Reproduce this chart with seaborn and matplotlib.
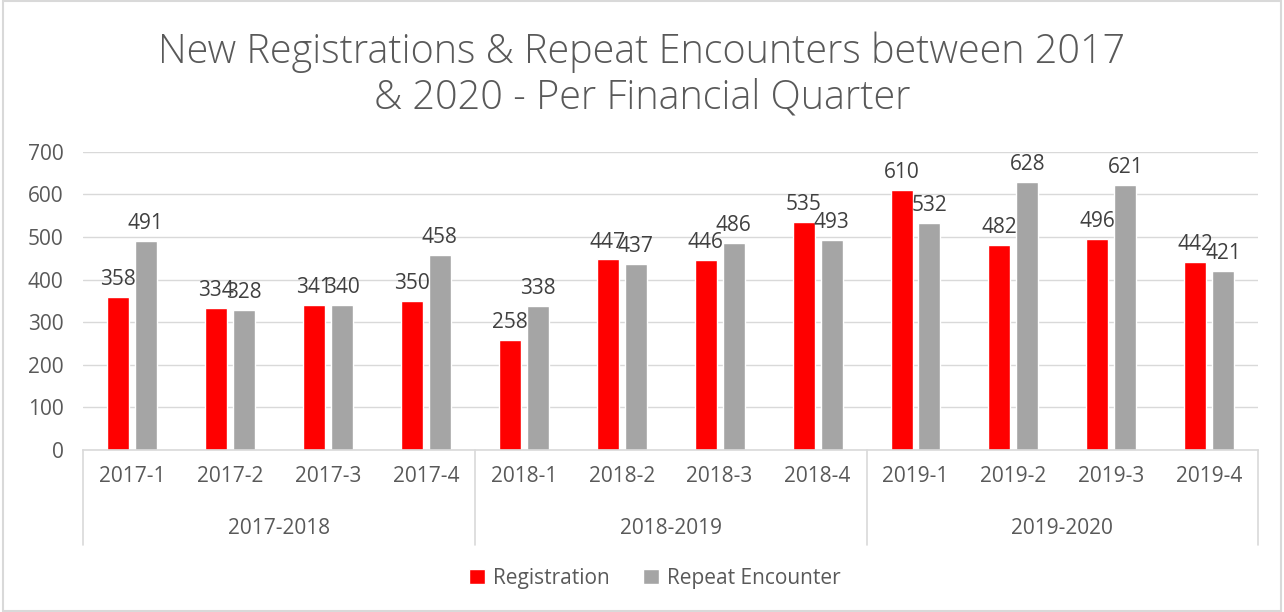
import matplotlib
matplotlib.use("Agg")
import matplotlib.pyplot as plt
import matplotlib.transforms as mtransforms
from matplotlib.patches import Rectangle
import seaborn as sns
import pandas as pd

quarters = ["2017-1", "2017-2", "2017-3", "2017-4",
            "2018-1", "2018-2", "2018-3", "2018-4",
            "2019-1", "2019-2", "2019-3", "2019-4"]
fin_years = ["2017-2018", "2018-2019", "2019-2020"]
registration = [358, 334, 341, 350, 258, 447, 446, 535, 610, 482, 496, 442]
repeat_encounter = [491, 328, 340, 458, 338, 437, 486, 493, 532, 628, 621, 421]
series_names = ["Registration", "Repeat Encounter"]
colors = ["#FF0000", "#A5A5A5"]
title = "New Registrations & Repeat Encounters between 2017\n& 2020 - Per Financial Quarter"

df = pd.DataFrame({
    "quarter": quarters * 2,
    "value": registration + repeat_encounter,
    "series": [series_names[0]] * len(quarters) + [series_names[1]] * len(quarters),
})

sns.set_style("white")
plt.rcParams["font.family"] = ["Open Sans", "DejaVu Sans"]
txt = "#595959"

fig = plt.figure(figsize=(12.84, 6.12), dpi=100)
ax = fig.add_axes([0.0646, 0.265, 0.9154, 0.487])

sns.barplot(data=df, x="quarter", y="value", hue="series", order=quarters,
            hue_order=series_names, palette=colors, width=0.571, gap=0.214,
            saturation=1, ax=ax, legend=True)

for cont in ax.containers:
    ax.bar_label(cont, padding=5, fontsize=15, color="#404040")

ax.set_ylim(0, 700)
ax.set_yticks(range(0, 701, 100))
ax.set_xlim(-0.5, len(quarters) - 0.5)
ax.yaxis.grid(True, color="#D9D9D9", linewidth=1)
ax.set_axisbelow(True)
for s in ["top", "right", "left"]:
    ax.spines[s].set_visible(False)
ax.spines["bottom"].set_color("#D9D9D9")
ax.spines["bottom"].set_linewidth(1.2)
ax.tick_params(axis="both", length=0, labelsize=15, labelcolor=txt)
ax.tick_params(axis="x", pad=12)
ax.tick_params(axis="y", pad=14)
ax.set_xlabel("")
ax.set_ylabel("")

# group labels and separators
trans = mtransforms.blended_transform_factory(ax.transData, ax.transAxes)
for i, fy in enumerate(fin_years):
    ax.text(i * 4 + 1.5, -0.265, fy, transform=trans, ha="center", va="center",
            fontsize=15, color=txt)
for xb in [-0.5, 3.5, 7.5, 11.5]:
    ax.plot([xb, xb], [0, -0.32], transform=trans, color="#D9D9D9",
            linewidth=1.2, clip_on=False)

ax.legend(loc="center", bbox_to_anchor=(0.51, 0.055), bbox_transform=fig.transFigure,
          ncol=2, frameon=False, fontsize=15, labelcolor=txt, handlelength=0.75,
          handleheight=0.75, handletextpad=0.4, columnspacing=1.6)

fig.text(0.5, 0.877, title, ha="center", va="center", fontsize=28.5,
         color=txt, linespacing=1.15, fontweight="light")

fig.patches.append(Rectangle((0.002, 0.002), 0.996, 0.996, transform=fig.transFigure,
                             fill=False, edgecolor="#D9D9D9", linewidth=1.5))

fig.savefig("out.png", dpi=100)
